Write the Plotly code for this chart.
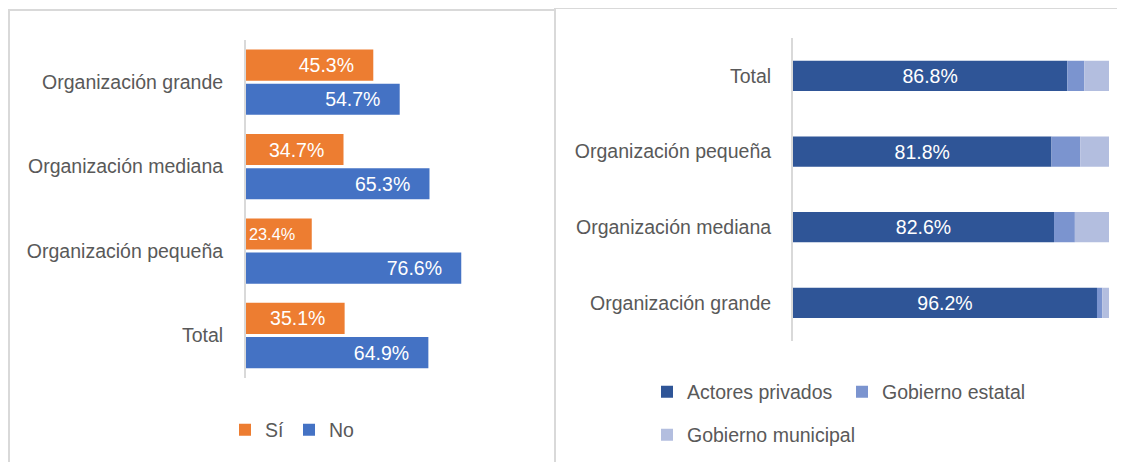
import plotly.graph_objects as go

# page body adds an 8px margin; compensate so the picture lands at the same place
OFF = 8
W, H = 1125 - OFF, 462 - OFF

# ---- data (left panel) ----
cats_left = ["Organización grande", "Organización mediana", "Organización pequeña", "Total"]
si_vals = [45.3, 34.7, 23.4, 35.1]
no_vals = [54.7, 65.3, 76.6, 64.9]

# ---- data (right panel) ----
cats_right = ["Total", "Organización pequeña", "Organización mediana", "Organización grande"]
privados = [86.8, 81.8, 82.6, 96.2]
estatal = [5.4, 9.1, 6.6, 1.7]
municipal = [7.8, 9.1, 10.8, 2.1]

# stacked bases derived from the data
base_estatal = list(privados)
base_municipal = [a + b for a, b in zip(privados, estatal)]

FONT = "Liberation Sans, Arial, sans-serif"
GRAY = "#595959"
FS = 19.5

def px(x):
    return (x - OFF) / W

def py(y):
    return 1 - (y - OFF) / H

pad = "\u00a0\u00a0\u00a0"

fig = go.Figure()
fig.add_trace(go.Bar(
    y=cats_left, x=si_vals, orientation="h", name="Sí",
    marker=dict(color="#ED7D31", line=dict(width=0)), xaxis="x", yaxis="y",
    texttemplate="%{x:.1f}%" + pad, textposition="inside", insidetextanchor="end",
    constraintext="inside", textfont=dict(color="white", size=FS, family=FONT),
    legend="legend",
))
fig.add_trace(go.Bar(
    y=cats_left, x=no_vals, orientation="h", name="No",
    marker=dict(color="#4472C4", line=dict(width=0)), xaxis="x", yaxis="y",
    texttemplate="%{x:.1f}%" + pad, textposition="inside", insidetextanchor="end",
    constraintext="inside", textfont=dict(color="white", size=FS, family=FONT),
    legend="legend",
))

RW = 0.4
fig.add_trace(go.Bar(
    y=cats_right, x=privados, orientation="h", name="Actores privados",
    marker=dict(color="#2F5597", line=dict(width=0)), xaxis="x2", yaxis="y2",
    offsetgroup="r", width=RW,
    texttemplate="%{x:.1f}%", textposition="inside", insidetextanchor="middle",
    constraintext="none", textfont=dict(color="white", size=FS, family=FONT),
    legend="legend2",
))
fig.add_trace(go.Bar(
    y=cats_right, x=estatal, base=base_estatal, orientation="h", name="Gobierno estatal",
    marker=dict(color="#7B94CF", line=dict(width=0)), xaxis="x2", yaxis="y2",
    offsetgroup="r", width=RW, textposition="none",
    legend="legend2",
))
fig.add_trace(go.Bar(
    y=cats_right, x=municipal, base=base_municipal, orientation="h", name="Gobierno municipal",
    marker=dict(color="#B3BEDF", line=dict(width=0)), xaxis="x2", yaxis="y2",
    offsetgroup="r", width=RW, textposition="none",
    legend="legend3",
))

axis_common = dict(showgrid=False, zeroline=False, fixedrange=True, automargin=False)

fig.update_layout(
    width=W, height=H,
    margin=dict(l=0, r=0, t=0, b=0, autoexpand=False),
    paper_bgcolor="white", plot_bgcolor="white",
    font=dict(family=FONT, size=FS, color=GRAY),
    barmode="group",
    bargap=0.19, bargroupgap=0.09,
    showlegend=True,
    xaxis=dict(domain=[px(246), px(527)], range=[0, 100], visible=False, anchor="y", **axis_common),
    yaxis=dict(domain=[py(377.7), py(40)], categoryorder="array", categoryarray=cats_left,
               autorange="reversed", showline=True, linecolor="#D9D9D9", linewidth=2,
               ticks="", ticklabelstandoff=17, anchor="x",
               tickfont=dict(size=FS, color=GRAY, family=FONT), **axis_common),
    xaxis2=dict(domain=[px(793), px(1109)], range=[0, 100], visible=False, anchor="y2", **axis_common),
    yaxis2=dict(domain=[py(340.7), py(38)], categoryorder="array", categoryarray=cats_right,
                autorange="reversed", showline=True, linecolor="#D9D9D9", linewidth=2,
                ticks="", ticklabelstandoff=16, anchor="x2",
                tickfont=dict(size=FS, color=GRAY, family=FONT), **axis_common),
    legend=dict(orientation="h", x=px(239 - 14), y=py(430), xanchor="left", yanchor="middle",
                font=dict(size=FS, color=GRAY, family=FONT), bgcolor="rgba(0,0,0,0)"),
    legend2=dict(orientation="h", x=px(661 - 14), y=py(392), xanchor="left", yanchor="middle",
                 entrywidth=150, entrywidthmode="pixels",
                 font=dict(size=FS, color=GRAY, family=FONT), bgcolor="rgba(0,0,0,0)"),
    legend3=dict(orientation="h", x=px(661 - 14), y=py(435), xanchor="left", yanchor="middle",
                 font=dict(size=FS, color=GRAY, family=FONT), bgcolor="rgba(0,0,0,0)"),
    shapes=[
        dict(type="rect", xref="paper", yref="paper", x0=px(9), x1=px(555), y0=py(475), y1=py(10),
             line=dict(color="#D9D9D9", width=2), fillcolor="rgba(0,0,0,0)", layer="below"),
        dict(type="rect", xref="paper", yref="paper", x0=px(555), x1=px(1140), y0=py(475), y1=py(8),
             line=dict(color="#D9D9D9", width=2), fillcolor="rgba(0,0,0,0)", layer="below"),
    ],
)

fig.write_html("out.html")
